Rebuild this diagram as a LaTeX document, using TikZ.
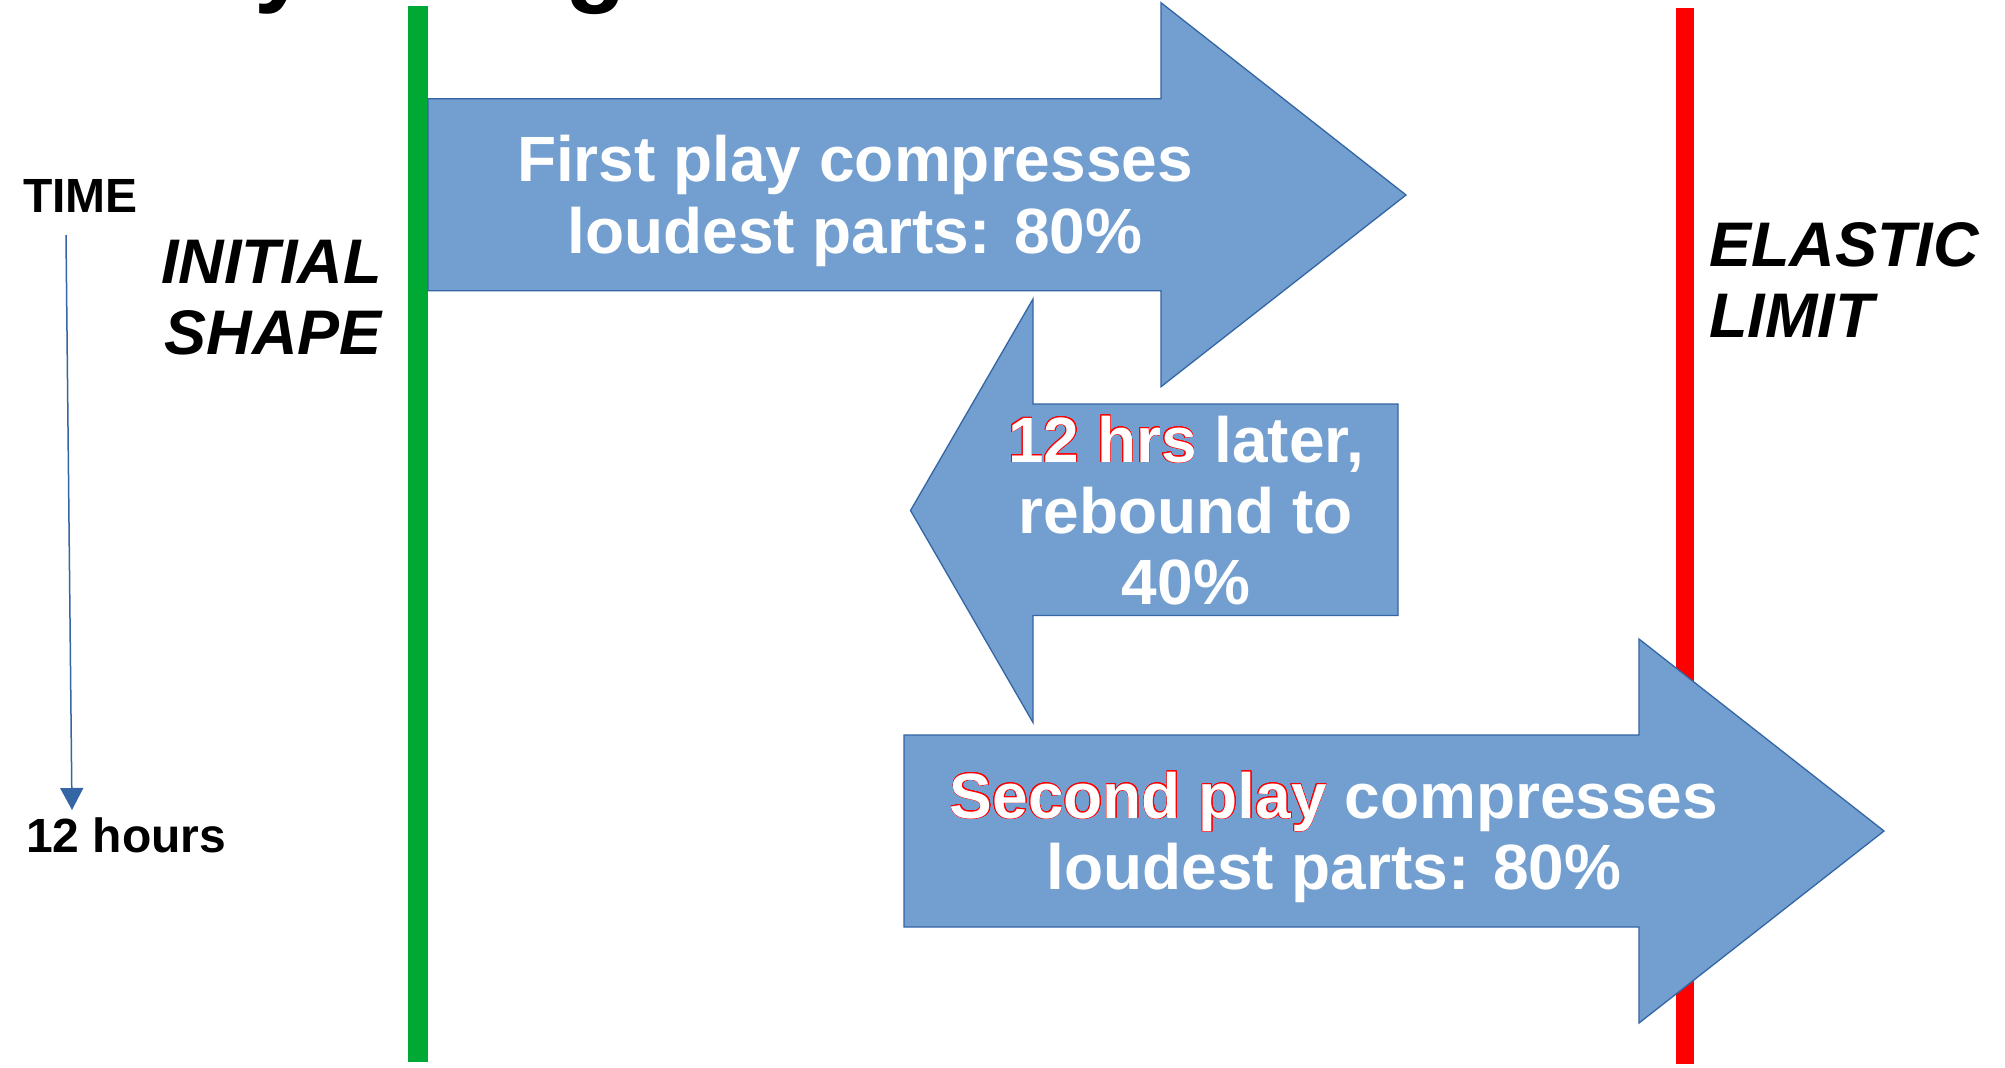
\documentclass[tikz,border=0pt]{standalone}
\usepackage{fontspec}
\setmainfont{Liberation Sans}
\usepackage{contour}
\contourlength{0.75pt}
\contournumber{24}
\usetikzlibrary{arrows.meta}
\definecolor{afill}{HTML}{729FCF}
\definecolor{aline}{HTML}{3465A4}
\definecolor{bargreen}{HTML}{00A933}
\definecolor{barred}{HTML}{FF0000}
\tikzset{
  bigarrow/.style={fill=afill,draw=aline,line width=1.3pt,line join=miter},
  arrowtext/.style={text=white,font=\bfseries\fontsize{64}{71.5}\selectfont,align=center,inner sep=0pt,anchor=base},
  sidelabel/.style={font=\bfseries\itshape\fontsize{63}{70.5}\selectfont,inner sep=0pt},
  timelabel/.style={font=\bfseries\fontsize{48}{56}\selectfont,inner sep=0pt,anchor=base west},
  titlefrag/.style={font=\bfseries\fontsize{100}{100}\selectfont,inner sep=0pt,anchor=base west},
}
\newcommand{\redline}[1]{\contour{red}{#1}}
\begin{document}
\begin{tikzpicture}[x=1pt,y=-1pt]
\useasboundingbox (0,0) rectangle (2005,1068);
\fill[white] (0,0) rectangle (2005,1068);
% cut-off title fragments
\node[titlefrag] (ty) at (254,-6) {y};
\node[titlefrag] (tg) at (565,-6) {g};
% limit bars
\fill[bargreen] (408,6) rectangle (428,1062);
\fill[barred] (1676,8) rectangle (1694,1064);
% arrows
\draw[bigarrow] (428,98.7) -- (1161,98.7) -- (1161,2.7) -- (1406,195) -- (1161,386.7) -- (1161,290.7) -- (428,290.7) -- cycle;
\draw[bigarrow] (910.5,510.5) -- (1033,299) -- (1033,404) -- (1398,404) -- (1398,615.5) -- (1033,615.5) -- (1033,722.5) -- cycle;
\draw[bigarrow] (904,735) -- (1639,735) -- (1639,639) -- (1884,831) -- (1639,1023) -- (1639,927) -- (904,927) -- cycle;
% arrow texts (base anchor = baseline of last line)
\node[arrowtext] (t1) at (855,253.3) {First play compresses\\loudest parts: 80\%};
\node[arrowtext,font=\bfseries\fontsize{64}{71}\selectfont] (t2) at (1186,604) {\redline{12 hrs} later,\\rebound to\\40\%};
\node[arrowtext,font=\bfseries\fontsize{64}{71}\selectfont] (t3) at (1334,889) {\redline{Second play} compresses\\loudest parts: 80\%};
% side labels
\node[sidelabel,anchor=base east,align=right] (initial) at (382,354) {INITIAL\\SHAPE};
\node[sidelabel,anchor=base west,align=left] (elastic) at (1709,337) {ELASTIC\\LIMIT};
% time axis
\node[timelabel] (time) at (23,212) {TIME};
\node[timelabel] (hours) at (26,852.5) {12 hours};
\coordinate (tstart) at (66,235);
\coordinate (tend) at (72,810);
\draw[aline,line width=1.5pt,-{Triangle[width=23pt,length=22pt]}] (tstart) -- (tend);
\end{tikzpicture}
\end{document}
